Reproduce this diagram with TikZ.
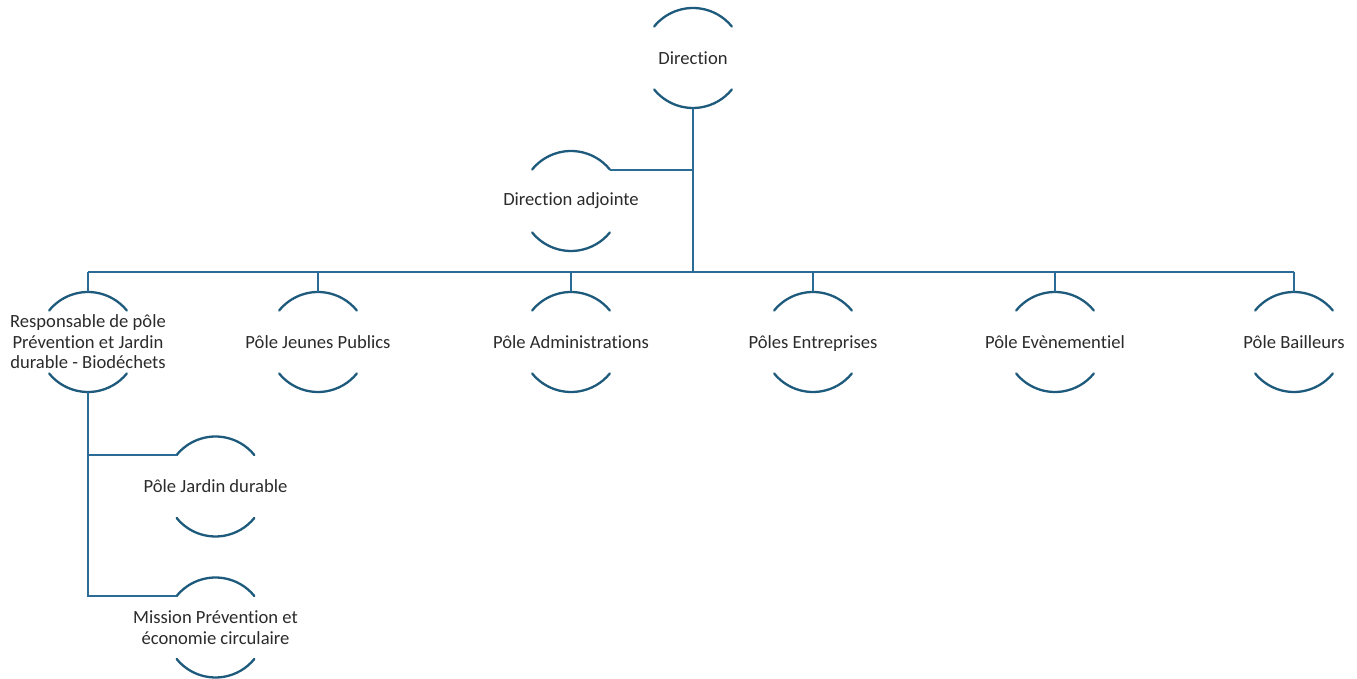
\documentclass[tikz,border=0pt]{standalone}
\usepackage{fontspec}
\setmainfont{Carlito}[Ligatures=NoCommon]
\usepackage{tikz}
\usetikzlibrary{shapes}
\definecolor{arccol}{HTML}{1D5A7C}
\definecolor{linecol}{HTML}{2A6C95}
\definecolor{textcol}{HTML}{2B2B2B}
\tikzstyle{unit} = [circle, minimum size=100pt, inner sep=0pt, outer sep=0pt]
\tikzstyle{link} = [draw=linecol, line width=2pt]
\tikzstyle{rim} = [draw=arccol, line width=2.3pt, line cap=round]
\tikzset{every label/.style={align=center, text=textcol, font=\fontsize{18.6}{20.5}\selectfont}}

\begin{document}
\begin{tikzpicture}[x=1pt, y=1pt]
    \useasboundingbox (0,0) rectangle (1357,679);
    \node (dir) [unit, label={center:Direction}] at (693,621) {};
    \node (adj) [unit, label={center:Direction adjointe}] at (571,478) {};
    \node (resp) [unit, label={center:Responsable de pôle\\Prévention et Jardin\\durable - Biodéchets}] at (88,337) {};
    \node (jeunes) [unit, label={center:Pôle Jeunes Publics}] at (318,337) {};
    \node (admin) [unit, label={center:Pôle Administrations}] at (571,337) {};
    \node (entr) [unit, label={[yshift=-2pt]center:Pôles Entreprises}] at (813,337) {};
    \node (event) [unit, label={center:Pôle Evènementiel}] at (1055,337) {};
    \node (bail) [unit, label={center:Pôle Bailleurs}] at (1294,337) {};
    \node (jard) [unit, label={center:Pôle Jardin durable}] at (215.5,192.5) {};
    \node (miss) [unit, label={center:Mission Prévention et\\économie circulaire}] at (215.5,51.5) {};
    \coordinate (bus) at (693,407);

    % arcs of each unit
    \foreach \n in {dir, adj, resp, jeunes, admin, entr, event, bail, jard, miss} {
        \draw [rim] (\n.141) arc[start angle=141, end angle=39, radius=50pt];
        \draw [rim] (\n.-141) arc[start angle=-141, end angle=-39, radius=50pt];
    }

    \draw [link] (dir.south) -- (bus);
    \draw [link] (adj.39) -- (adj.39 -| dir.south);
    \draw [link] (resp.north |- bus) -- (bail.north |- bus);
    \foreach \n in {resp, jeunes, admin, entr, event, bail}
        \draw [link] (\n.north |- bus) -- (\n.north);
    \draw [link] (resp.south) |- (jard.141);
    \draw [link] (resp.south) |- (miss.141);
\end{tikzpicture}
\end{document}
